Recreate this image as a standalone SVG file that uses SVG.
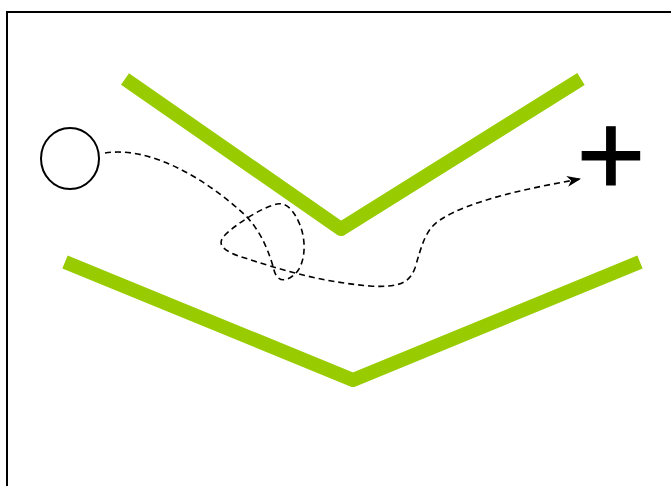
<svg xmlns="http://www.w3.org/2000/svg" width="671" height="486" viewBox="0 0 671 486">
<style>
.frame{fill:none;stroke:#000;stroke-width:2}
.bar{fill:none;stroke:#99CC00;stroke-width:14;stroke-linejoin:round;stroke-linecap:butt}
.node{fill:#fff;stroke:#000;stroke-width:2}
.path{fill:none;stroke:#000;stroke-width:1.6;stroke-dasharray:6 4}
.plus{font-family:"Liberation Sans",Arial,sans-serif;font-size:118px;fill:#000;stroke:#000;stroke-width:1.2}
</style>
<defs>
<marker id="arr" viewBox="0 0 14 11" refX="13" refY="5.5" markerWidth="14" markerHeight="11" markerUnits="userSpaceOnUse" orient="auto">
<path d="M0,0 L14,5.5 L0,11 L4,5.5 Z" fill="#000"/>
</marker>
</defs>
<rect class="frame" x="7" y="12" width="700" height="500"/>
<g id="upper-wall"><polyline class="bar" points="125,79 341,229 581,79"/></g>
<g id="lower-wall"><polyline class="bar" points="65,262 353,380 640,262"/></g>
<g id="start"><ellipse class="node" cx="70" cy="158.5" rx="29" ry="30.5"/></g>
<g id="goal"><text class="plus" x="611" y="194.5" text-anchor="middle">+</text></g>
<g id="connectors">
<path class="path" marker-end="url(#arr)" d="M105,153 C150,146 205,178 245,215 C262,232 270,255 274,270 C277,282 286,283 296,273 C306,262 306,240 300,225 C294,210 286,202 277,204 C262,207 235,225 225,235 C215,245 225,252 245,258 C275,268 320,282 370,286 C400,288 410,282 415,268 C422,245 425,230 440,220 C470,200 530,188 580,179"/>
</g>
</svg>
